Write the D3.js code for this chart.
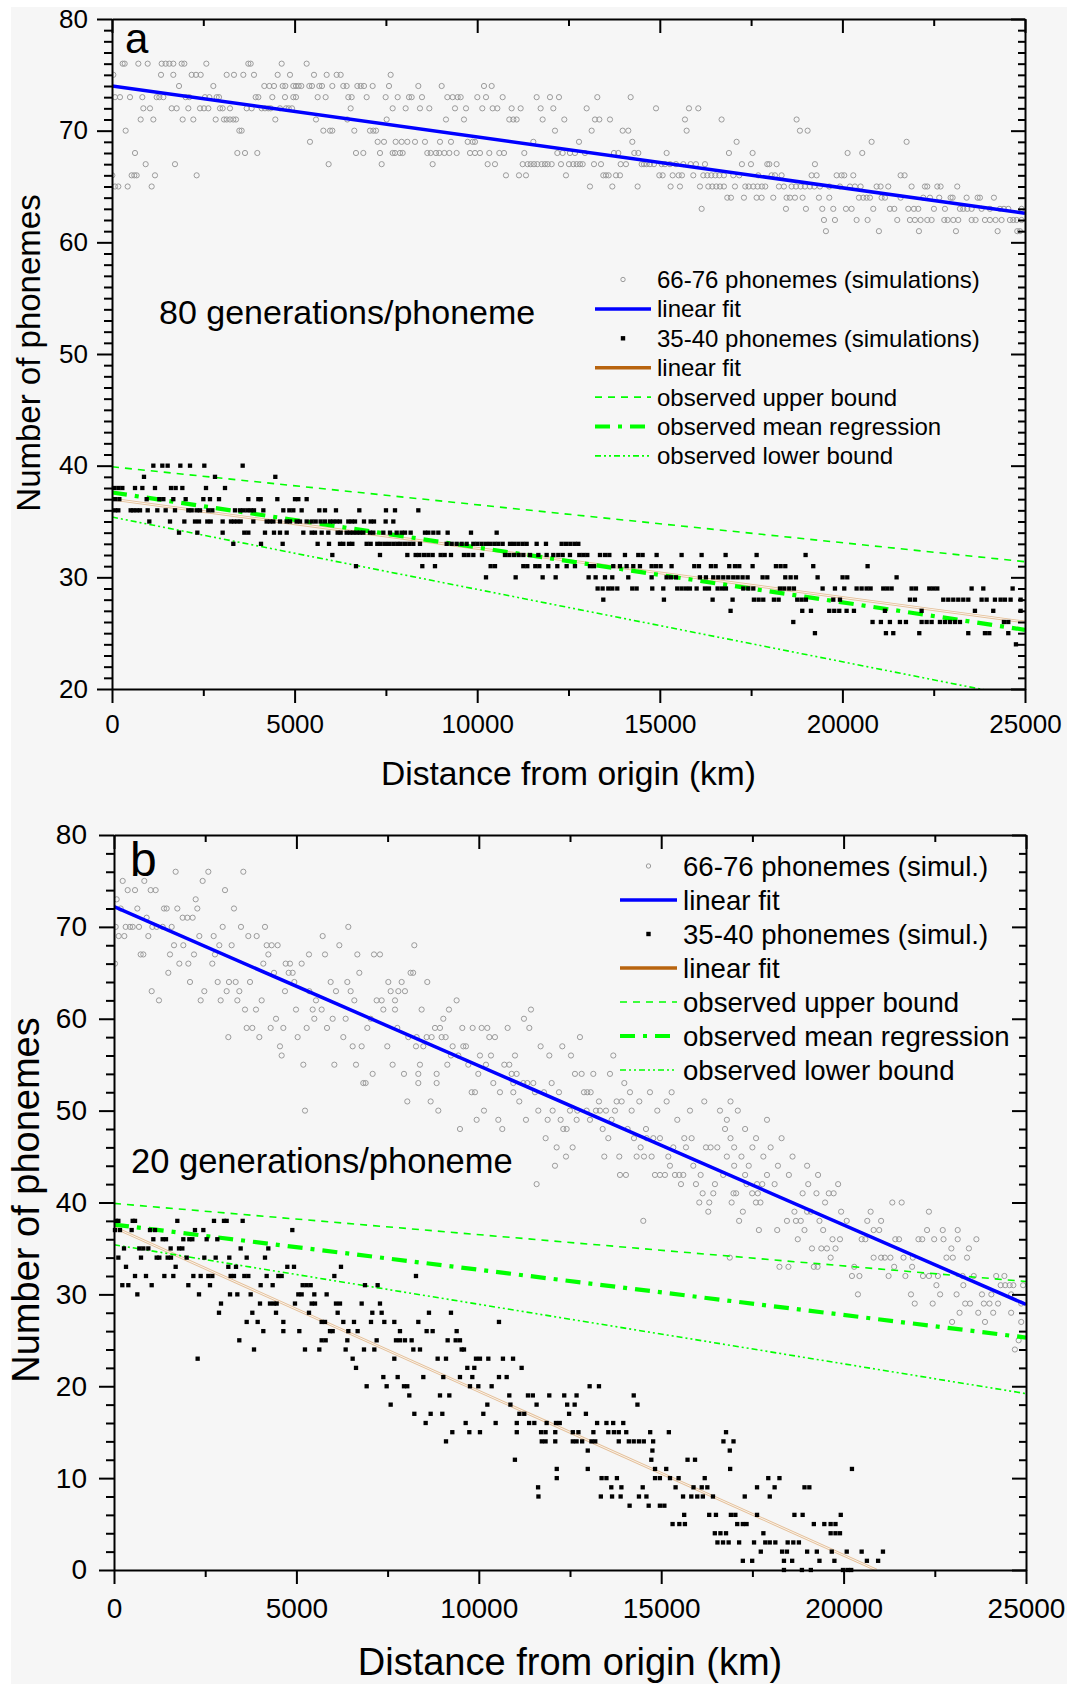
<!DOCTYPE html>
<html><head><meta charset="utf-8">
<script src="https://cdn.jsdelivr.net/npm/d3@7"></script>
<style>body{margin:0;background:#fff;} svg{display:block;} text{font-family:"Liberation Sans",Arial,sans-serif;fill:#000;}</style>
</head><body><svg id="c" width="1086" height="1684"></svg>
<script>
// ---------------- DATA ----------------
// rows: [number of phonemes, [distances from origin (km) ...]]
const aHighRows = [
[76,[292,347,721,977,1360,1469,1570,1679,1908,1981,2583,3733,3797,4646,5330]],
[75,[37,1342,1679,2181,2300,2428,3140,3340,3596,3888,4536,4874,5531,5878,6151,6261,7630]],
[74,[1835,2775,4171,4308,4436,4673,4746,4965,5038,5111,5184,5403,5476,5677,5750,6033,6334,6425,6718,6809,6900,7137,7585,8388,9027,10186,10396]],
[73,[82,219,493,831,1223,1296,1406,2017,2117,2546,2665,2866,2930,3934,4007,4390,4737,4965,5038,5631,5850,6471,6562,6973,7493,7822,8132,8205,8488,9182,9328,9465,9547,10003,10241,10697,11628,11993,12239,13289,14202]],
[72,[858,1040,1634,1771,2090,2410,2519,2638,2957,3030,3231,3688,3824,4098,4189,4281,4345,4600,4765,4838,4929,6535,7685,8041,8433,8689,9392,9693,10140,10423,10551,10943,11190,11737,12084,12997,14896,15799,16054]],
[71,[785,1132,1935,2227,2839,3067,3140,3231,3322,3395,4472,5586,6443,7521,9145,9638,10879,10989,11080,11792,12385,13225,13344,13636,15689,16692,18746]],
[70,[374,3487,3550,5787,5970,6033,6635,7064,7155,7229,12130,13134,13983,14138,15735,18837,19047]],
[69,[5421,7274,7448,7767,7931,8087,8297,8570,8981,9282,9739,9875,9940,11537,12788,14248,17103,20800,21758]],
[68,[630,3432,3642,3979,6681,6882,7338,7685,7749,7886,7959,8634,8725,8872,8963,9100,9237,9437,9803,9940,10076,10332,10606,10734,11290,12194,12340,12540,12677,12951,13745,13864,14302,14412,15187,16893,17541,20142,20544]],
[67,[922,1725,5932,7384,8780,10286,10487,11245,11381,11464,11555,11646,11765,11856,11929,12039,12294,12513,12632,12723,12815,12888,13198,13390,13928,14074,14503,14567,14640,14731,14841,15051,15142,15279,15443,15643,15844,15990,16237,17249,17496,17943,17998,18198,19248]],
[66,[9,538,611,675,1177,2318,10788,11144,11336,12431,13453,13526,13599,13800,13910,14987,15078,15352,15516,15607,15917,16191,16301,16410,16520,16630,16756,17012,17176,17696,18061,18153,18335,19157,19294,19842,19978,20051,20298,21594,21703]],
[65,[82,173,429,1086,13088,13700,14393,15296,15552,16100,16328,16437,16547,16648,16756,17058,17340,17432,17560,17678,17797,17888,18262,18399,18609,18728,18856,18974,19111,19230,19385,19641,19933,20207,20343,20499,20937,21046,21256,21895,22260,22324,22598,22689,23145]],
[64,[16848,16948,17304,17651,17788,18107,18472,18564,18701,18910,19357,19641,20453,20571,20663,20754,21073,21165,21594,22214,22397,22652,22963,23018,23401,23702,23766,24149]],
[63,[16146,18454,19001,19449,19750,20097,20252,20845,21301,21420,21804,21959,22078,22507,22808,23218,23310,23419,23538,23812,24040,24314,24423,24542,24907]],
[62,[19495,19796,20389,20690,21502,21849,21986,22141,22324,22443,22790,22881,23036,23173,23538,23647,23903,24040,24195,24359,24587,24679,24770,24907]],
[61,[19549,21000,22096,23109,24250,24788,24861]]
];
const aLowRows = [
[40,[1132,1378,1524,1871,2136,2528,3578]],
[39,[876,2820,4472]],
[38,[55,173,283,630,831,1177,1616,1743,1926,2574,3094]],
[37,[82,201,949,1296,1406,1679,2017,2501,2683,2930,3733,4007,4071,4527,5011,5102,5330]],
[36,[82,173,511,584,675,767,977,1241,1469,1725,2090,2181,2318,2410,2638,2747,3368,3505,3596,3706,3797,3888,4144,4691,4856,4965,5193,5677,5832,6133,6772,7502,7749,8388]],
[35,[1022,1588,1981,2273,2382,2610,2702,3030,3258,3340,3432,3523,3870,4235,4326,4418,4600,4783,4874,5056,5148,5330,5467,5577,5713,5832,5969,6060,6151,6243,6471,6562,6654,6900,7082,7174,7493,7703]],
[34,[1835,2337,3030,3623,3733,4189,4436,4600,4783,5239,5467,5558,5741,5923,6179,6261,6425,6517,6608,6699,6790,6882,7064,7155,7429,7612,7795,7931,8023,8178,8570,8662,8799,8936,9191,9830,10533]],
[33,[3322,4080,4673,5631,5942,6243,6334,6489,6581,6973,7082,7265,7356,7475,7585,7703,7813,7904,8023,8141,8251,8433,9164,9301,9437,9575,9711,9894,10003,10122,10241,10350,10469,10578,10697,10898,11007,11126,11245,11354,11628,11883,12312,12431,12550,12668,12769]],
[32,[6033,7338,8087,8315,8415,8543,8662,8780,9000,9109,9282,9638,9757,9894,10131,10761,10879,11007,11135,11263,11446,11674,11902,12084,12221,12340,12540,12796,12906,13015,13362,13499,13618,14046,14411,14529,14913,15597,16145,16802,17651,18992]],
[31,[6681,8497,8844,10368,10487,11263,11372,11591,11701,11947,12194,12449,12677,13088,13198,13726,13909,14091,14274,14456,14776,14894,15022,15323,15944,16072,16400,16528,16902,17058,17176,17541,18180,18308,18436,19202,20690]],
[30,[10241,11053,11792,12148,13051,13243,13499,13699,14137,14776,15186,15305,15442,16099,16263,16464,16601,16738,16875,17012,17131,17267,17404,17815,17943,18436,18582,18728,19321,20005,20133,21484]],
[29,[13298,13434,13590,13699,13836,14246,14365,14794,15095,15478,15597,15716,15825,16008,16236,16346,16583,16702,16811,17286,17422,17560,18290,18408,18545,18673,19458,19796,20051,20389,20526,20663,20772,21119,21229,21347,21895,22014,22379,22488,22598,23538,23858,24661]],
[28,[13453,15113,16446,16993,17577,17705,17833,18125,18253,18764,18883,19001,19750,19933,21850,21986,22762,22899,23036,23173,23310,23447,23812,23949,24177,24332,24451,24606,24880]],
[27,[16938,18901,19139,19640,19777,19914,20115,20316,21165,22169,23629,24131,24880]],
[26,[18655,20826,21054,21301,21575,21740,22169,22306,22443,22671,22808,22945,23082,23219,24423,24542]],
[25,[19248,21192,21393,22105,23447,23903,24022,24542]],
[24,[24752]]
];
const bHighRows = [
[76,[1690,2586,3545]],
[75,[238,831,2430]],
[74,[375,576,1005,1142,3043]],
[73,[73,2239]],
[72,[183,640,1371,1444,1736,2284,3289]],
[71,[895,1882,2010,2156]],
[70,[46,320,439,512,685,1051,1170,1334,1581,2979,3481,4139,6423]],
[69,[128,283,941,2339,2732,3682,3911,5720]],
[68,[1645,1900,2887,3225,4185,4322,4486,6177,8232]],
[67,[731,804,1535,2193,2768,4231,5345,5784,6670,7127,7291]],
[66,[27,1791,2038,2695,4093,4706,4824,5144]],
[65,[1489,4386,4788,4897,6725,8130,8200]],
[64,[2083,2842,3152,3335,3728,4943,5939,6396,7520,7885,8588]],
[63,[1033,2476,3088,3436,4687,5354,6085,6487,7584,7794,7976]],
[62,[1233,2376,2924,3381,4048,5537,6588,7200,7337,7703,9392]],
[61,[3591,3892,4989,5446,5692,7383,7703,8433,9182,11430]],
[60,[4441,5491,5994,6350,7035,9027,11238]],
[59,[3637,3792,4294,4642,5281,5839,6944,7766,8799,8936,9548,9831,10078,10233,10790,11385]],
[58,[3134,3984,5034,6286,8068,8296,8570,8707,8981,9091,10288,10443,12773]],
[57,[4550,6542,6789,7492,8278,8479,9283,9575,9648,11695,12289]],
[56,[4596,9237,9438,10032,10334,10992,11933,12527,13687]],
[55,[5190,6040,6634,7638,8387,9137,9712,10197,10699,10836]],
[54,[7090,7949,8342,8844,9986,10900,11037,12636,12819,13139,13596]],
[53,[6834,6898,8342,8844,10398,10946,11220,11330,11494,11997,13989]],
[52,[9804,9895,10580,10946,11540,11786,12198,12883,12974,13066,14144,14692,15286]],
[51,[8040,8680,11110,13294,13778,13916,14400,15149,16181,16900]],
[50,[5236,8890,10142,11631,12024,12499,12700,12956,13212,13321,13486,13733,14190,14893,15789,16611,17100]],
[49,[9941,10535,11293,11887,12243,12682,13047,13641,15441,16800,17900]],
[48,[9484,10644,12316,12408,13395,14080,14583,16750,17300]],
[47,[11832,13550,14254,14601,14784,14966,15633,15834,16900,17600,18300]],
[46,[12134,12572,14436,15332,15679,16227,16355,16538,17000,17500,18000]],
[45,[12390,13440,13851,14327,14528,14738,15195,16800,17200,17800,18600]],
[44,[12088,15240,15880,17000,17400,18200,19000]],
[43,[13870,14034,14829,14966,15103,15377,15496,15606,16081,16700,17300,17900,18500,19300]],
[42,[11585,15542,15953,16473,17340,17627,17771,18109,19030,19850]],
[41,[16136,16428,16982,17054,17494,17648,18877,19256,19594,19727]],
[40,[16044,16318,16931,17597,17720,19492,21335,21592]],
[39,[16291,17238,18652,19000,19102,19932,20741,22339]],
[38,[14509,17136,18447,18693,18826,19338,20086,20649,21028]],
[37,[17678,18180,18928,19440,20823,20976,22288,22718,23128]],
[36,[18744,19696,19901,20495,20597,21417,21520,22052,22155,22483,22739,23128,23640]],
[35,[19133,19389,19543,19778,22954,23435]],
[34,[16880,19645,20823,21028,21130,21284,21642,21898,22820,22994,23384]],
[33,[18242,18488,19184,19287,20290,21386,21878]],
[32,[20229,20434,21233,21694,22175,22339,22585,23261,23568,24183,24408]],
[31,[22544,23282,24306,24429,24552,24654,24920]],
[30,[20393,21847,22646,23097,23793,24050,24593]],
[29,[21950,22442,23333,23466,23845,23999,24234,24869]],
[28,[23179,23691,24101,24593]],
[27,[22974,23876,24869]],
[25,[24798]],
[24,[24695]]
];
const bLowRows = [
[38,[55,119,512,576,1736,2741,3015,3088,3527]],
[37,[27,164,484,987,1124,2220,2449,4888]],
[36,[1078,1334,1425,1900,2065,2147,2540,2832]],
[35,[274,694,804,941,1553,1782,1873,3472,4230]],
[34,[119,740,1170,1243,1471,1562,1992,2476,2787,3161,3637,4139]],
[33,[329,1690,3134,3344,4751,4934,6222]],
[32,[576,877,1380,1626,2175,2376,2586,2695,3198,3289,3573,3682,4185,4505,4596,6040,8278]],
[31,[228,393,1033,2038,2631,4020,4349,5172,5281,5391,6880,7227]],
[30,[640,2330,3180,3381,3746,5053,5144,5491,5829]],
[29,[2933,4002,4276,4386,4459,4961,5418,5510,6085,6195,6789,7291]],
[28,[2878,3792,4441,5345,6131,7081,7337,8634,9237]],
[27,[3637,3938,4642,5692,5784,6286,6579,7045,7410,7684,8342,10553]],
[26,[4093,4642,5080,5921,5994,6423,6679,7839,8570,8735,9393]],
[25,[3435,5692,5802,6396,7200,7730,7839,7976,8159,9146,9366,9484]],
[24,[3838,5235,5628,6350,6853,7136,8205,8388,9530,9594]],
[23,[2293,6542,7684,8872,9101,9923,10032,10261,10662,10939]],
[22,[6634,9685,9877,11174]],
[21,[7383,7776,8479,9027,9484,9822,10553,10764]],
[20,[6926,7474,7949,8040,9758,9987,10352,13038,13294]],
[19,[8095,8936,9192,10836,11348,11481,11932,12342,12680,14247]],
[18,[7584,10234,10867,11584,12423,12628,14349]],
[17,[8233,8680,9000,10124,11113,11246,12475,12936]],
[16,[8543,9640,10462,11041,11379,11522,11860,12116,12219,13243,13499,13684,13960]],
[15,[9274,9740,10032,11041,11707,11830,12096,12577,12731,13141,13550,13704,13837,14042,14698,15210,16777]],
[14,[9101,11727,11830,12096,12577,12680,12833,13089,13192,13837,14113,14247,14390,14523,14779,16706,16982]],
[13,[12987,14759,16880]],
[12,[10990,14729,15722,15927]],
[11,[12137,12987,14831,15138,16890,20229]],
[10,[12137,13366,13499,13786,14831,14964,15241,15477,16193,17935,18242]],
[9,[11625,13632,13909,14493,15394,15886,16111,16265,17627,18109,18928,19061]],
[8,[11635,13345,13653,13888,14390,14595,15599,15825,15989,16142,16419,17290,17976]],
[7,[14134,14657,14964,15087]],
[6,[15630,16316,16501,16910,17033,17627,18652,18877,19922]],
[5,[15312,15497,15650,17084,17238,17340,19184,19471,19645,19778]],
[4,[16470,16624,16777,17801,19645,19778,19901]],
[3,[16542,16695,16849,17136,17545,17853,17976,18129,18467,18621,18775]],
[2,[17730,18314,18447,19000,19266,19676,20086,20495,21079]],
[1,[17238,17494,18365,18590,19338,19748,20639,20946]],
[0,[18365,18857,19102,19983,20106,20208]]
];
// fitted / observed lines: [distance km, phonemes]
const aHighFit = [[0,74.0],[25000,62.6]];
const aLowFit  = [[0,37.0],[25000,26.0]];
const bHighFit = [[0,72.2],[25000,28.9]];
const bLowFit  = [[0,37.3],[20900,0]];
const observedUpper = [[0,39.9],[25000,31.4]];
const observedMean  = [[0,37.6],[25000,25.3]];
const observedLower = [[0,35.4],[25000,19.2]];
// ticks & labels
const xMajorTicks = [0,5000,10000,15000,20000,25000];
const xMinorTicks = [2500,7500,12500,17500,22500];
const aYMajor = [20,30,40,50,60,70,80];
const bYMajor = [0,10,20,30,40,50,60,70,80];
const legendA = ["66-76 phonemes (simulations)","linear fit","35-40 phonemes (simulations)","linear fit","observed upper bound","observed mean regression","observed lower bound"];
const legendB = ["66-76 phonemes (simul.)","linear fit","35-40 phonemes (simul.)","linear fit","observed upper bound","observed mean regression","observed lower bound"];
const panelText = {a:"80 generations/phoneme", b:"20 generations/phoneme"};
const xTitle = "Distance from origin (km)";
const yTitle = "Number of phonemes";

// ---------------- DRAW ----------------
const svg = d3.select("#c");
svg.append("rect").attr("x",11).attr("y",7).attr("width",1056).attr("height",1677).attr("fill","#f6f6f6");

const styles = {
  upper:{stroke:"#00ff00",w:1.6,dash:"7,6"},
  mean:{stroke:"#00ff00",w:4.2,dash:"15,8,4,8"},
  lower:{stroke:"#00ff00",w:1.6,dash:"6,3,2,3,2,3"}
};

function drawPanel(o){
  const x = d3.scaleLinear().domain([0,25000]).range([o.x0,o.x1]);
  const y = d3.scaleLinear().domain(o.yDomain).range([o.y0,o.y1]);
  const g = svg.append("g");
  const clipId = "clip"+o.id;
  svg.append("clipPath").attr("id",clipId).append("rect")
     .attr("x",o.x0).attr("y",o.y1).attr("width",o.x1-o.x0).attr("height",o.y0-o.y1);
  const pg = g.append("g").attr("clip-path",`url(#${clipId})`);

  const flat = rows => rows.flatMap(([v,xs]) => xs.map(d => [d,v]));
  // circles
  pg.append("g").selectAll("circle").data(flat(o.high)).join("circle")
    .attr("cx",d=>x(d[0])).attr("cy",d=>y(d[1])).attr("r",2.6)
    .attr("fill","none").attr("stroke","#9b9b9b").attr("stroke-width",1);
  // squares
  const s = 4.3;
  g.append("g").selectAll("rect").data(flat(o.low)).join("rect")
    .attr("x",d=>x(d[0])-s/2).attr("y",d=>y(d[1])-s/2).attr("width",s).attr("height",s).attr("fill","#000");

  const line = d3.line().x(d=>x(d[0])).y(d=>y(d[1]));
  // brown fit (thin tan double line)
  pg.append("path").attr("d",line(o.lowFit)).attr("fill","none").attr("stroke","#e4c09a").attr("stroke-width",2.8);
  pg.append("path").attr("d",line(o.lowFit)).attr("fill","none").attr("stroke","#fbf4ec").attr("stroke-width",1);
  // observed lines
  [[observedUpper,styles.upper],[observedMean,styles.mean],[observedLower,styles.lower]].forEach(([dat,st])=>{
    pg.append("path").attr("d",line(dat)).attr("fill","none").attr("stroke",st.stroke)
      .attr("stroke-width",st.w).attr("stroke-dasharray",st.dash);
  });
  // blue fit
  pg.append("path").attr("d",line(o.highFit)).attr("fill","none").attr("stroke","#0000ff").attr("stroke-width",3.5);

  // axes
  const fs = o.tickFont;
  const yMinor = d3.range(o.yDomain[0], o.yDomain[1]+0.001, o.minorStep).filter(v=>!o.yMajor.includes(v));
  function styleAxis(sel){
    sel.selectAll("path").attr("stroke","#000").attr("stroke-width",2);
    sel.selectAll("line").attr("stroke","#000").attr("stroke-width",2);
    sel.selectAll("text").attr("font-size",fs).attr("font-family","Liberation Sans, Arial, sans-serif").attr("fill","#000");
  }
  // left
  g.append("g").attr("transform",`translate(${o.x0},0)`)
    .call(d3.axisLeft(y).tickValues(o.yMajor).tickSize(15).tickPadding(o.yPad).tickSizeOuter(0).tickFormat(d3.format("d")))
    .call(styleAxis);
  g.append("g").attr("transform",`translate(${o.x0},0)`)
    .call(d3.axisLeft(y).tickValues(yMinor).tickSize(8).tickFormat("")).call(styleAxis).select(".domain").remove();
  // right (ticks pointing inward)
  g.append("g").attr("transform",`translate(${o.x1},0)`)
    .call(d3.axisLeft(y).tickValues(o.yMajor).tickSize(14).tickFormat("").tickSizeOuter(0)).call(styleAxis);
  g.append("g").attr("transform",`translate(${o.x1},0)`)
    .call(d3.axisLeft(y).tickValues(yMinor).tickSize(7).tickFormat("")).call(styleAxis).select(".domain").remove();
  // bottom
  g.append("g").attr("transform",`translate(0,${o.y0})`)
    .call(d3.axisBottom(x).tickValues(xMajorTicks).tickSize(14).tickPadding(o.xPad).tickSizeOuter(0).tickFormat(d3.format("d")))
    .call(styleAxis);
  g.append("g").attr("transform",`translate(0,${o.y0})`)
    .call(d3.axisBottom(x).tickValues(xMinorTicks).tickSize(7).tickFormat("")).call(styleAxis).select(".domain").remove();
  // top (ticks pointing inward)
  g.append("g").attr("transform",`translate(0,${o.y1})`)
    .call(d3.axisBottom(x).tickValues(xMajorTicks).tickSize(14).tickFormat("").tickSizeOuter(0)).call(styleAxis);
  g.append("g").attr("transform",`translate(0,${o.y1})`)
    .call(d3.axisBottom(x).tickValues(xMinorTicks).tickSize(7).tickFormat("")).call(styleAxis).select(".domain").remove();

  // titles
  g.append("text").attr("x",(o.x0+o.x1)/2+o.xTitleDx).attr("y",o.xTitleY).attr("text-anchor","middle")
    .attr("font-size",o.titleFontX).text(xTitle);
  g.append("text").attr("transform",`translate(${o.yTitleX},${o.yTitleCY}) rotate(-90)`).attr("text-anchor","middle")
    .attr("font-size",o.titleFontY).text(yTitle);
  g.append("text").attr("x",o.letterX).attr("y",o.letterY).attr("font-size",o.letterFont).text(o.letter);
  g.append("text").attr("x",o.noteX).attr("y",o.noteY).attr("font-size",o.noteFont).text(o.note);

  // legend
  const L = o.legend;
  const lg = g.append("g");
  o.legendLabels.forEach((lab,i)=>{
    const cy = L.y + i*L.dy;
    const xa = L.x, xb = L.x + L.len, xm = (xa+xb)/2;
    if(i===0){
      lg.append("circle").attr("cx",xm).attr("cy",cy).attr("r",2.2).attr("fill","none").attr("stroke","#9b9b9b").attr("stroke-width",1);
    } else if(i===2){
      lg.append("rect").attr("x",xm-2.2).attr("y",cy-2.2).attr("width",4.4).attr("height",4.4).attr("fill","#000");
    } else {
      const st = i===1?{stroke:"#0000ff",w:3.5,dash:null}:
                 i===3?{stroke:"#b8640f",w:3.5,dash:null}:
                 i===4?styles.upper: i===5?styles.mean: styles.lower;
      lg.append("line").attr("x1",xa).attr("x2",xb).attr("y1",cy).attr("y2",cy)
        .attr("stroke",st.stroke).attr("stroke-width",st.w).attr("stroke-dasharray",st.dash);
    }
    lg.append("text").attr("x",L.tx).attr("y",cy+L.base).attr("font-size",L.font).text(lab);
  });
}

drawPanel({id:"a", x0:112, x1:1025, y0:689, y1:19, yDomain:[20,80], yMajor:aYMajor, minorStep:1,
  high:aHighRows, low:aLowRows, highFit:aHighFit, lowFit:aLowFit,
  tickFont:26, yPad:9, xPad:12, titleFontX:33.6, titleFontY:33, xTitleDx:0, xTitleY:785, yTitleX:40, yTitleCY:353,
  letter:"a", letterX:125, letterY:53, letterFont:42,
  note:panelText.a, noteX:159, noteY:324, noteFont:34,
  legendLabels:legendA, legend:{x:595, len:56, tx:657, y:279.5, dy:29.4, base:8.5, font:24}
});
drawPanel({id:"b", x0:114, x1:1026, y0:1570, y1:835, yDomain:[0,80], yMajor:bYMajor, minorStep:2,
  high:bHighRows, low:bLowRows, highFit:bHighFit, lowFit:bLowFit,
  tickFont:28, yPad:12, xPad:14, titleFontX:38, titleFontY:38, xTitleDx:0, xTitleY:1675, yTitleX:39, yTitleCY:1200,
  letter:"b", letterX:130, letterY:876, letterFont:48,
  note:panelText.b, noteX:131, noteY:1173, noteFont:34.5,
  legendLabels:legendB, legend:{x:620, len:57, tx:683, y:866, dy:34, base:9.5, font:27.6}
});
</script></body></html>
